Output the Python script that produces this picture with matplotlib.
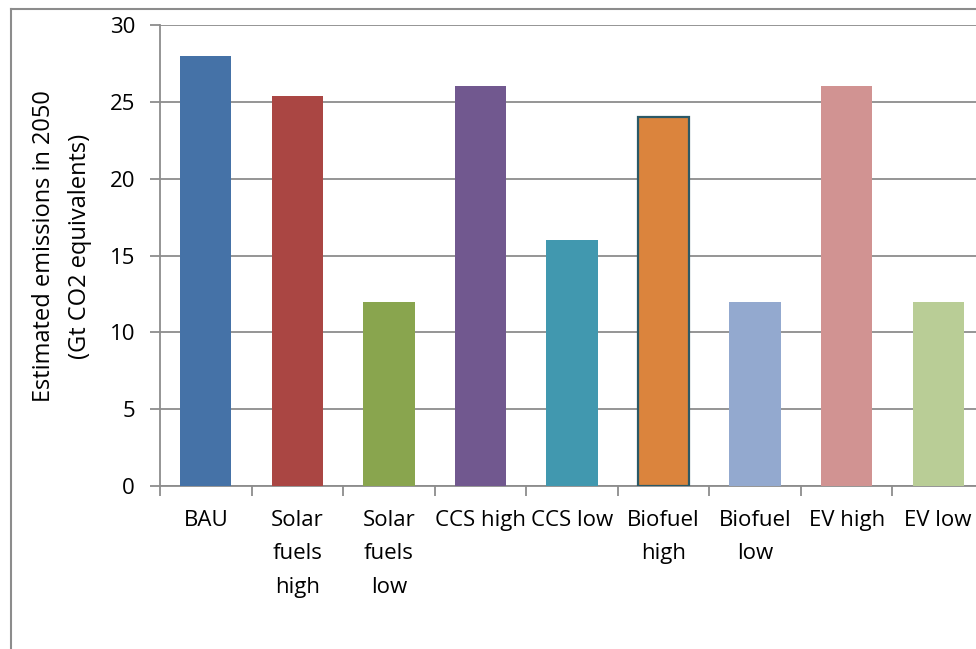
import matplotlib
matplotlib.use("Agg")
import matplotlib.pyplot as plt
from matplotlib.lines import Line2D
import numpy as np

categories = ["BAU", "Solar\nfuels\nhigh", "Solar\nfuels\nlow", "CCS high", "CCS low",
              "Biofuel\nhigh", "Biofuel\nlow", "EV high", "EV low"]
emissions = [28, 25.4, 12, 26, 16, 24, 12, 26, 12]
colors = ["#4572A7", "#AA4643", "#89A54E", "#71588F", "#4198AF",
          "#DB843D", "#93A9CF", "#D19392", "#B9CD96"]
y_ticks = [0, 5, 10, 15, 20, 25, 30]

plt.rcParams["font.family"] = ["Open Sans", "DejaVu Sans"]

W, H = 976, 649
fig = plt.figure(figsize=(W / 100, H / 100), dpi=100)
ax = fig.add_axes([160 / W, 163 / H, 824 / W, 461 / H])

x = np.arange(len(categories))
bars = ax.bar(x, emissions, width=0.56, color=colors, zorder=3)
# the biofuel-high bar carries a dark outline
bars[5].set_edgecolor("#2B5966")
bars[5].set_linewidth(1.6)

ax.set_xlim(-0.5, len(categories) - 0.5)
ax.set_ylim(0, 30)
ax.set_yticks(y_ticks)
ax.yaxis.grid(True, color="#8C8C8C", linewidth=1.3, zorder=0)
ax.set_axisbelow(True)

ax.set_xticks(x)
ax.set_xticklabels(categories, fontsize=16, linespacing=1.8, va="top")
ax.set_xticks(np.arange(len(categories) + 1) - 0.5, minor=True)
ax.tick_params(axis="x", which="major", length=0, pad=17)
ax.tick_params(axis="x", which="minor", length=7, width=1.3, color="#8C8C8C")
ax.tick_params(axis="y", length=7, width=1.3, color="#8C8C8C", labelsize=16, pad=11)

for s in ["top", "right"]:
    ax.spines[s].set_visible(False)
for s in ["left", "bottom"]:
    ax.spines[s].set_color("#8C8C8C")
    ax.spines[s].set_linewidth(1.3)

fig.text(62 / W, 1 - 246 / H, "Estimated emissions in 2050\n(Gt CO2 equivalents)",
         rotation=90, ha="center", va="center", fontsize=17, linespacing=1.65)

# chart frame
fig.add_artist(Line2D([11 / W, 11 / W], [0, 1 - 9 / H], transform=fig.transFigure,
                      color="#8C8C8C", linewidth=1.5))
fig.add_artist(Line2D([11 / W, 1], [1 - 9 / H, 1 - 9 / H], transform=fig.transFigure,
                      color="#8C8C8C", linewidth=1.5))

fig.savefig("out.png", dpi=100)
